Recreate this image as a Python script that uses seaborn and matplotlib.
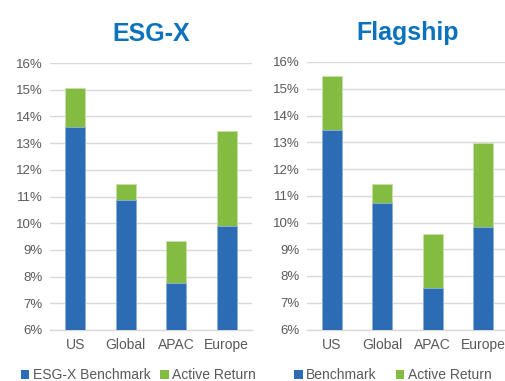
import matplotlib
matplotlib.use("Agg")
import matplotlib.pyplot as plt
import seaborn as sns
import numpy as np
import pandas as pd
from matplotlib.patches import Patch
from matplotlib.ticker import FuncFormatter

sns.set_style("white")
plt.rcParams['font.family'] = ['Liberation Sans', 'DejaVu Sans']

regions = ["US", "Global", "APAC", "Europe"]
esg_benchmark = [13.6, 10.86, 7.77, 9.91]
esg_active = [1.45, 0.61, 1.55, 3.54]
flag_benchmark = [13.45, 10.74, 7.57, 9.84]
flag_active = [2.02, 0.71, 2.01, 3.14]
titles = ["ESG-X", "Flagship"]
legend_labels = [["ESG-X Benchmark", "Active Return"], ["Benchmark", "Active Return"]]

BLUE = "#2B6CB5"
GREEN = "#83BC41"
GRID = "#D9D9D9"
TXT = "#595959"
TITLE = "#0B72BE"

fig = plt.figure(figsize=(5.05, 3.81), dpi=100)
ax1 = fig.add_axes([50/505, 51/381, 202/505, 267/381])
ax2 = fig.add_axes([306.5/505, 51.5/381, 202/505, 267.5/381])

panels = [(ax1, esg_benchmark, esg_active), (ax2, flag_benchmark, flag_active)]
for i, (ax, bench, active) in enumerate(panels):
    df = pd.DataFrame({"region": regions, "bench": bench,
                       "total": np.array(bench) + np.array(active)})
    sns.barplot(data=df, x="region", y="total", color=GREEN, width=0.4,
                saturation=1, ax=ax, edgecolor="#C8E0A8", linewidth=0.6, zorder=3)
    sns.barplot(data=df, x="region", y="bench", color=BLUE, width=0.4,
                saturation=1, ax=ax, edgecolor="#8FB3DD", linewidth=0.6, zorder=3)
    ax.set_ylim(6, 16)
    ax.set_xlim(-0.5, 3.5)
    ax.set_yticks(range(6, 17))
    ax.yaxis.set_major_formatter(FuncFormatter(lambda v, p: f"{int(v)}%"))
    ax.grid(axis="y", color=GRID, linewidth=1, zorder=0)
    ax.set_axisbelow(True)
    for s in ["top", "right", "left"]:
        ax.spines[s].set_visible(False)
    ax.spines["bottom"].set_color(GRID)
    ax.spines["bottom"].set_linewidth(1)
    ax.set_xlabel("")
    ax.set_ylabel("")
    ax.tick_params(axis="y", labelsize=9.5, labelcolor=TXT, length=0, pad=5)
    ax.tick_params(axis="x", labelsize=10, labelcolor=TXT, length=0, pad=6)
    ax.set_title(titles[i], fontsize=18, fontweight="bold", color=TITLE, pad=16)
    handles = [Patch(facecolor=BLUE, edgecolor="none"), Patch(facecolor=GREEN, edgecolor="none")]
    xc = 0.274 if i == 0 else 0.778
    fig.legend(handles, legend_labels[i], loc="center", bbox_to_anchor=(xc, 6/381),
               ncol=2, frameon=False, fontsize=10, labelcolor=TXT,
               handlelength=0.6, handleheight=0.6, handletextpad=0.25,
               columnspacing=0.7 if i == 0 else 1.4)

fig.savefig("out.png", dpi=100)
